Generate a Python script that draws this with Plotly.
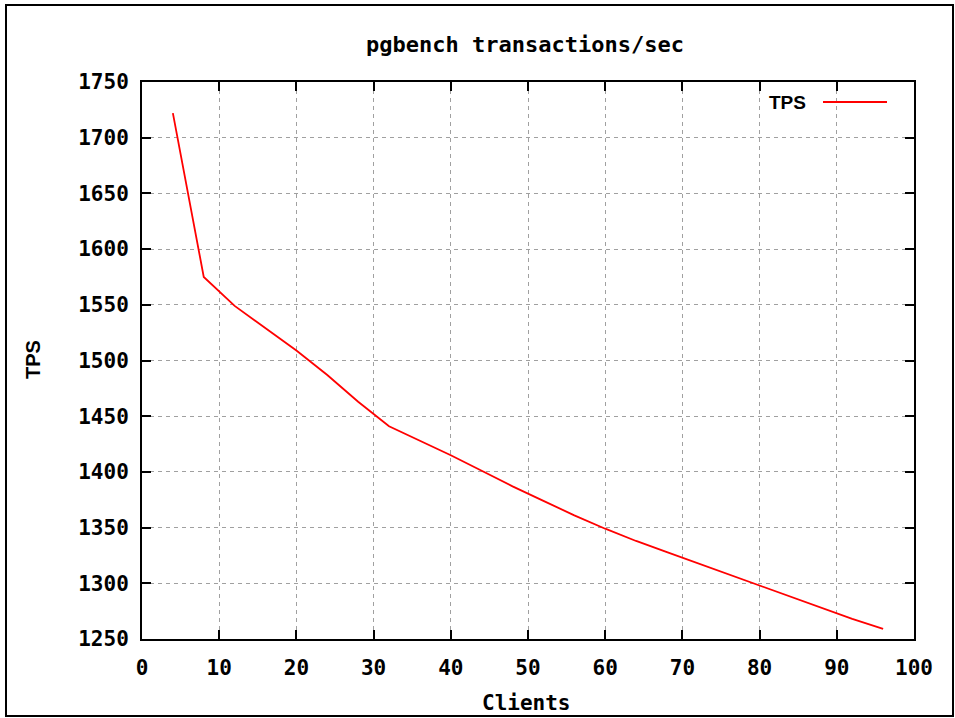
import plotly.graph_objects as go

clients = [4, 8, 12, 16, 20, 24, 28, 32, 36, 40, 44, 48, 52, 56, 60, 64, 68, 72, 76, 80, 84, 88, 92, 96]
tps = [1722, 1575, 1549, 1529, 1509, 1487, 1463, 1441, 1428, 1415, 1401, 1387, 1374, 1361, 1349, 1338,
       1328, 1318, 1308, 1298, 1288, 1278, 1268, 1259]

x_ticks = [0, 10, 20, 30, 40, 50, 60, 70, 80, 90, 100]
y_ticks = [1250, 1300, 1350, 1400, 1450, 1500, 1550, 1600, 1650, 1700, 1750]

title_text = "pgbench transactions/sec"
x_title = "Clients"
y_title = "TPS"
series_name = "TPS"

W, H = 955, 718
L, R, T, B = 142, 41, 82, 79
pw, ph = W - L - R, H - T - B

def px(xpix):
    return (xpix - L) / pw

def py(ypix):
    return (H - B - ypix) / ph

mono = "DejaVu Sans Mono"
sans = "Liberation Sans"

fig = go.Figure()
fig.add_trace(go.Scatter(x=clients, y=tps, mode="lines", name=series_name,
                         line=dict(color="#ff0000", width=1.8), showlegend=False))

axis_common = dict(
    showline=True, linecolor="black", linewidth=2, mirror="ticks",
    ticks="inside", ticklen=9, tickwidth=2, tickcolor="black",
    showgrid=True, gridcolor="#a0a0a0", gridwidth=1, griddash="4px,4px",
    zeroline=False,
    tickfont=dict(family=mono, size=21, color="black", weight="bold"),
)

fig.update_xaxes(range=[0, 100], tickvals=x_ticks, ticktext=[str(v) for v in x_ticks],
                 ticklabelstandoff=9, **axis_common)
fig.update_yaxes(range=[1250, 1750], tickvals=y_ticks, ticktext=[str(v) for v in y_ticks],
                 ticklabelstandoff=7, **axis_common)

fig.update_layout(
    width=W, height=H,
    margin=dict(l=L, r=R, t=T, b=B),
    paper_bgcolor="white", plot_bgcolor="white",
    showlegend=False,
)

annotations = [
    dict(text=title_text, x=px(524.5), y=py(45), xref="paper", yref="paper",
         showarrow=False, xanchor="center", yanchor="middle",
         font=dict(family=mono, size=22, color="black", weight="bold")),
    dict(text=x_title, x=px(526), y=py(703), xref="paper", yref="paper",
         showarrow=False, xanchor="center", yanchor="middle",
         font=dict(family=mono, size=21, color="black", weight="bold")),
    dict(text=y_title, x=px(33), y=py(360), xref="paper", yref="paper",
         showarrow=False, xanchor="center", yanchor="middle", textangle=-90,
         font=dict(family=sans, size=20, color="black", weight="bold")),
    dict(text=series_name, x=px(808), y=py(102), xref="paper", yref="paper",
         showarrow=False, xanchor="right", yanchor="middle",
         font=dict(family=sans, size=19, color="black", weight="bold")),
]
fig.update_layout(annotations=annotations)

fig.add_shape(type="line", xref="paper", yref="paper",
              x0=px(823), x1=px(887), y0=py(102), y1=py(102),
              line=dict(color="#ff0000", width=1.8))
fig.add_shape(type="rect", xref="paper", yref="paper",
              x0=px(6), x1=px(953), y0=py(716), y1=py(5),
              line=dict(color="black", width=2), layer="below")

fig.write_html("out.html",
               config={"displayModeBar": False},
               post_script="document.body.style.margin='0';document.body.style.overflow='hidden';")
